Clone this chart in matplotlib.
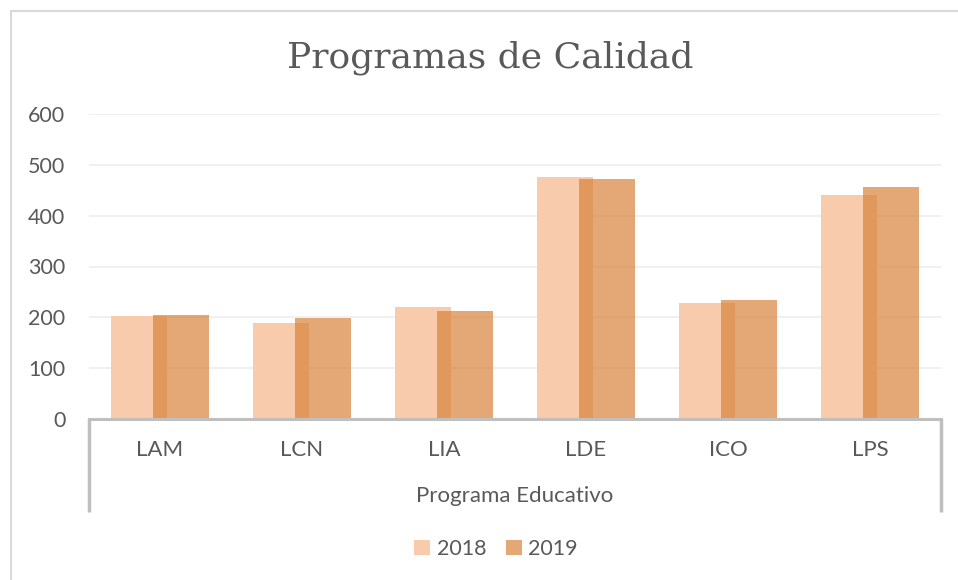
import matplotlib.pyplot as plt
import matplotlib.patches as mpatches
import numpy as np

# Datos
programas = ["LAM", "LCN", "LIA", "LDE", "ICO", "LPS"]
valores_2018 = [203, 188, 220, 476, 228, 441]
valores_2019 = [205, 199, 213, 472, 234, 457]
series = ["2018", "2019"]

titulo = "Programas de Calidad"
eje_x = "Programa Educativo"

W, H = 958, 580
fig = plt.figure(figsize=(W / 100, H / 100), dpi=100)
fig.patch.set_facecolor("white")

# Marco del grafico (cortado a la derecha y abajo)
fig.patches.append(mpatches.Rectangle((11 / W, -0.1), 1.2, 1 - 11 / H + 0.1,
                                      transform=fig.transFigure, fill=False,
                                      edgecolor="#D9D9D9", linewidth=1.5))

ax = fig.add_axes([89 / W, 1 - 419 / H, (941 - 89) / W, (419 - 114) / H])

x = np.arange(len(programas))
ancho = 0.39
desp = 0.148
ax.bar(x - desp, valores_2018, ancho, color="#F8CBAD", zorder=2, label=series[0])
ax.bar(x + desp, valores_2019, ancho, color="#D8833A", alpha=0.7, zorder=3,
       label=series[1])

ax.set_xlim(-0.5, len(programas) - 0.5)
ax.set_ylim(0, 600)
ax.set_yticks(range(0, 601, 100))
ax.yaxis.grid(True, color="#EFEFEF", linewidth=1.3, zorder=0)
ax.set_axisbelow(True)

for s in ["top", "right", "left"]:
    ax.spines[s].set_visible(False)
ax.spines["bottom"].set_color("#BFBFBF")
ax.spines["bottom"].set_linewidth(2.2)
ax.spines["bottom"].set_zorder(5)

fuente = "Lato"
gris = "#595959"
ax.tick_params(axis="y", length=0, pad=17, labelsize=15.5, labelcolor=gris)
for t in ax.get_yticklabels():
    t.set_fontfamily(fuente)
ax.set_xticks(x)
ax.set_xticklabels(programas, fontfamily=fuente, fontsize=16, color=gris)
ax.tick_params(axis="x", length=0, pad=15)

# Lineas verticales de la caja del eje de categorias
prof = (512 - 419) / (419 - 114)
for xx in [0, 1]:
    ax.plot([xx, xx], [0, -prof], transform=ax.transAxes, color="#BFBFBF",
            linewidth=2.5, clip_on=False, solid_capstyle="butt")

ax.text(0.5, -(496 - 419) / (419 - 114), eje_x, transform=ax.transAxes,
        ha="center", va="center", fontsize=16, fontfamily=fuente, color=gris)

fig.text(490 / W, 1 - 58 / H, titulo, ha="center", va="center",
         fontsize=26, fontfamily="DejaVu Serif", color=gris)

leg = fig.legend(loc="center", bbox_to_anchor=(496 / W, 1 - 549 / H), ncol=2,
                 frameon=False, handlelength=0.75, handleheight=0.75,
                 handletextpad=0.3, columnspacing=0.9,
                 prop={"family": fuente, "size": 15.5})
for t in leg.get_texts():
    t.set_color(gris)

fig.savefig("out.png", dpi=100)
